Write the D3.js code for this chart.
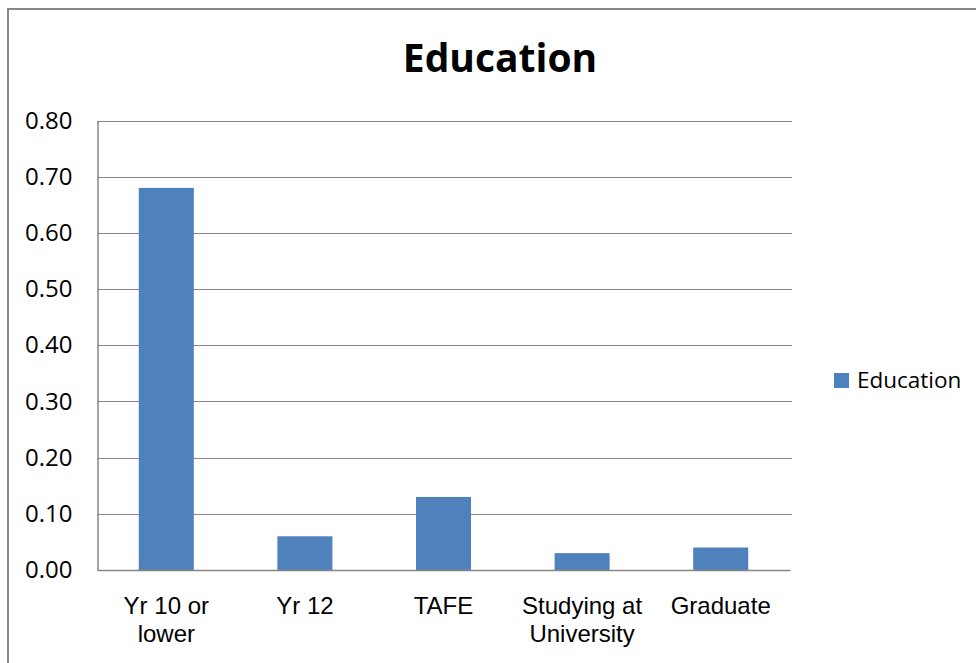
<!DOCTYPE html>
<html>
<head>
<meta charset="utf-8">
<script src="https://cdn.jsdelivr.net/npm/d3@7/dist/d3.min.js"></script>
<style>
  html, body { margin: 0; padding: 0; background: #fff; }
  svg { display: block; font-family: "Open Sans", "DejaVu Sans", sans-serif; }
</style>
</head>
<body>
<svg id="chart" width="976" height="663"></svg>
<script>
// Education levels and their shares
const categories = [["Yr 10 or", "lower"], ["Yr 12"], ["TAFE"], ["Studying at", "University"], ["Graduate"]];
const values = [0.68, 0.06, 0.13, 0.03, 0.04];
const yTicks = [0, 0.1, 0.2, 0.3, 0.4, 0.5, 0.6, 0.7, 0.8];
const seriesName = "Education";
const chartTitle = "Education";

const svg = d3.select("#chart");
const W = 976, H = 663;
const plot = { left: 97, right: 790, top: 120.5, bottom: 570 };
const gridColor = "#868686";
const barColor = "#4F81BD";

// Outer chart frame (runs off the right and bottom edges)
svg.append("rect")
  .attr("x", 8).attr("y", 9)
  .attr("width", W + 10).attr("height", H + 10)
  .attr("fill", "none").attr("stroke", "#878787").attr("stroke-width", 2);

const keys = categories.map(c => c.join(" "));
const x = d3.scaleBand().domain(keys).range([plot.left, plot.right]).paddingInner(0.603).paddingOuter(0.3015);
const y = d3.scaleLinear().domain([0, 0.8]).range([plot.bottom, plot.top]);

// Horizontal gridlines
svg.append("g").selectAll("line").data(yTicks.filter(d => d > 0)).join("line")
  .attr("x1", plot.left).attr("x2", plot.right + 2)
  .attr("y1", d => Math.round(y(d)) + 0.5).attr("y2", d => Math.round(y(d)) + 0.5)
  .attr("stroke", gridColor).attr("stroke-width", 1);

// Bars
svg.append("g").selectAll("rect").data(values).join("rect")
  .attr("x", (d, i) => x(keys[i]))
  .attr("width", x.bandwidth())
  .attr("y", d => y(d))
  .attr("height", d => y(0) - y(d))
  .attr("fill", barColor);

// Y axis
const yAxis = d3.axisLeft(y).tickValues(yTicks).tickFormat(d3.format(".2f")).tickSize(0).tickPadding(25);
const gy = svg.append("g").attr("transform", `translate(${plot.left + 0.5},0)`).call(yAxis);
gy.select(".domain").attr("stroke", gridColor).attr("stroke-width", 1.5);
gy.selectAll("text").attr("font-size", 24).attr("fill", "#000").attr("font-family", "Open Sans, sans-serif");

// X axis
const xAxis = d3.axisBottom(x).tickSize(0).tickFormat(() => "");
const gx = svg.append("g").attr("transform", `translate(0,${plot.bottom})`).call(xAxis);
gx.select(".domain").attr("stroke", gridColor).attr("stroke-width", 1.5);
gx.selectAll(".tick").each(function(d, i) {
  const t = d3.select(this).append("text")
    .attr("fill", "#000").attr("font-size", 24).attr("text-anchor", "middle");
  categories[i].forEach((line, j) => {
    t.append("tspan").attr("x", 0).attr("y", 44 + j * 27.7).text(line);
  });
});

// Title
svg.append("text")
  .attr("x", 500).attr("y", 72)
  .attr("text-anchor", "middle")
  .attr("font-size", 39).attr("font-weight", "bold").attr("fill", "#000")
  .text(chartTitle);

// Legend
const legend = svg.append("g");
legend.append("rect").attr("x", 834).attr("y", 373).attr("width", 15).attr("height", 15).attr("fill", barColor);
legend.append("text").attr("x", 857).attr("y", 388).attr("font-size", 22.5).attr("fill", "#000").text(seriesName);
</script>
</body>
</html>
